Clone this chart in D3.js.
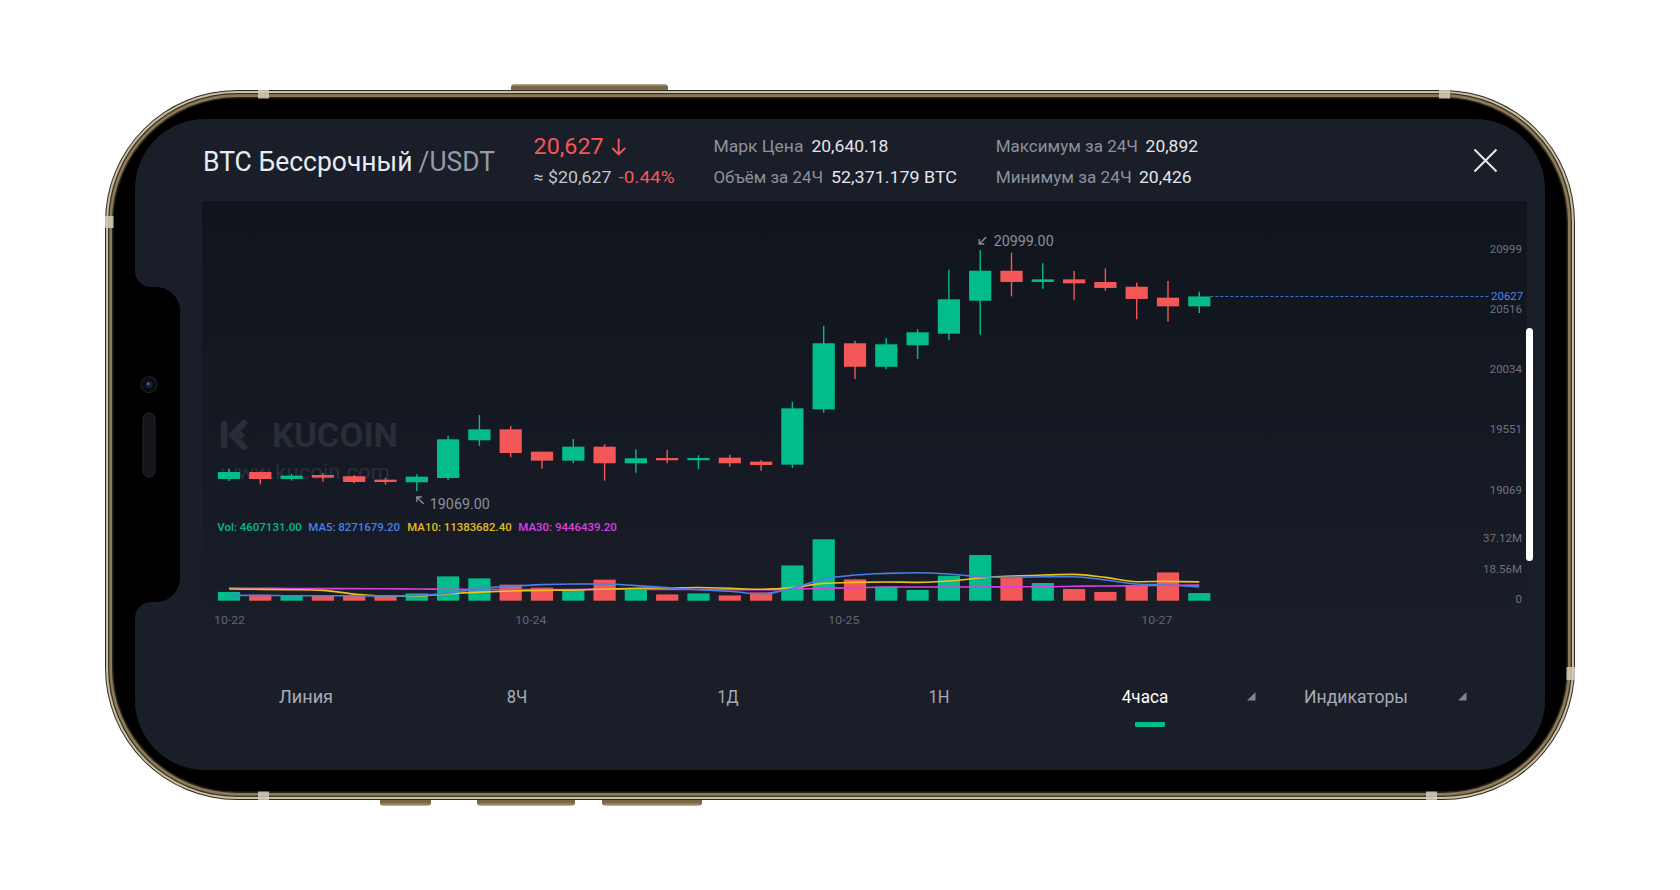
<!DOCTYPE html>
<html>
<head>
<meta charset="utf-8">
<script src="https://cdn.jsdelivr.net/npm/d3@7"></script>
<style>
  html, body { margin: 0; padding: 0; background: #ffffff; }
  svg { display: block; font-family: Roboto, "Noto Sans", "DejaVu Sans", sans-serif; }
</style>
</head>
<body>
<svg id="chart" width="1680" height="890"></svg>
<script>
// ---- 4h candles, BTC perpetual / USDT ----
const candleOpen  = [19165, 19221, 19165, 19197, 19187, 19160, 19139, 19173, 19475, 19563, 19384, 19312, 19424, 19291, 19333, 19317,
                     19336, 19304, 19280, 19723, 20252, 20064, 20236, 20329, 20593, 20833, 20743, 20764, 20743, 20705, 20617, 20548];
const candleHigh  = [19245, 19226, 19205, 19213, 19197, 19176, 19203, 19512, 19678, 19590, 19384, 19485, 19443, 19403, 19397, 19355,
                     19360, 19317, 19784, 20393, 20273, 20294, 20364, 20841, 20999, 20977, 20892, 20831, 20852, 20737, 20751, 20665];
const candleLow   = [19149, 19123, 19152, 19143, 19131, 19120, 19069, 19157, 19429, 19339, 19248, 19291, 19152, 19216, 19291, 19243,
                     19264, 19232, 19253, 19696, 19966, 20044, 20126, 20276, 20321, 20628, 20689, 20596, 20673, 20444, 20426, 20494];
const candleClose = [19221, 19165, 19192, 19176, 19141, 19141, 19184, 19483, 19563, 19373, 19312, 19424, 19291, 19331, 19315, 19333,
                     19291, 19277, 19731, 20252, 20064, 20244, 20340, 20604, 20833, 20743, 20764, 20732, 20695, 20607, 20548, 20627];

// volume per candle and its moving averages
const volume = [5300000, 3600000, 3200000, 3200000, 3400000, 3000000, 4400000, 14700000, 13500000, 9700000, 7900000, 6500000,
                12700000, 6700000, 3800000, 4400000, 3200000, 5000000, 21300000, 37120000, 12900000, 8500000, 6500000, 15100000,
                27600000, 13900000, 10700000, 7100000, 5300000, 9500000, 17100000, 4607131];
const volMA5  = [3200000, 3200000, 3000000, 3000000, 3000000, 2800000, 3200000, 4600000, 7300000, 8700000, 9700000, 10100000,
                 10100000, 9100000, 7900000, 6600000, 5700000, 4100000, 7500000, 13100000, 15500000, 16500000, 16900000, 16100000,
                 14500000, 14100000, 14500000, 14500000, 12500000, 10100000, 9500000, 8271679.2];
const volMA10 = [7050000, 6850000, 6650000, 6250000, 4000000, 2800000, 2800000, 4200000, 5200000, 5900000, 6250000, 6450000,
                 7050000, 7500000, 7700000, 8000000, 7500000, 6900000, 7900000, 10500000, 11100000, 11300000, 11100000, 11900000,
                 13700000, 14900000, 15500000, 15900000, 14100000, 11500000, 11700000, 11383682.4];
const volMA30 = [7600000, 7500000, 7400000, 7300000, 7300000, 7200000, 7100000, 6900000, 6800000, 6700000, 6800000, 6800000,
                 6900000, 6900000, 6800000, 6800000, 6600000, 6600000, 7000000, 7500000, 7900000, 8200000, 8300000, 8300000,
                 8300000, 8400000, 8400000, 8700000, 8900000, 9000000, 9300000, 9446439.2];

// axis ticks
const priceTicks = [20999, 20516, 20034, 19551, 19069];
const volTicks = [0, 18560000, 37120000];
const volTickLabels = ["0", "18.56M", "37.12M"];
const dateLabels = ["10-22", "10-24", "10-25", "10-27"];
const dateIndex = [0, 10, 20, 30];

const lastPrice = 20627;
const highMark = 20999;
const lowMark = 19069;

// header texts
const pairName = "BTC Бессрочный";
const pairQuote = "/USDT";
const priceText = "20,627";
const fiatText = "≈ $20,627";
const changeText = "-0.44%";
const statLabels = ["Марк Цена", "Объём за 24Ч", "Максимум за 24Ч", "Минимум за 24Ч"];
const statValues = ["20,640.18", "52,371.179 BTC", "20,892", "20,426"];
const tabs = ["Линия", "8Ч", "1Д", "1Н", "4часа", "Индикаторы"];
const tabCaret = [false, false, false, false, true, true];
const activeTab = "4часа";

// ---- colours ----
const UP = "#02bd8b", DOWN = "#f35757";
const C_MA5 = "#4a80e6", C_MA10 = "#ecc418", C_MA30 = "#d940e3";
const SCREEN = "#1a1e29", AXIS_TXT = "#6c7282";

const svg = d3.select("#chart");
const defs = svg.append("defs");

function fit(sel, w) {
  return sel.attr("textLength", w).attr("lengthAdjust", "spacingAndGlyphs");
}

// ================= phone body =================
const bodyBox = { x: 105, y: 90, w: 1470, h: 710, r: 132 };
const frame = svg.append("g");

// buttons on the rim
const btnTop = [[511, 668]];
const btnBottom = [[380, 431], [477, 575], [602, 702]];
btnTop.forEach(([a, b]) => {
  frame.append("rect").attr("x", a).attr("y", 84.5).attr("width", b - a).attr("height", 9)
    .attr("rx", 3).attr("fill", "#786845");
  frame.append("rect").attr("x", a + 2).attr("y", 84.5).attr("width", b - a - 4).attr("height", 1.2)
    .attr("fill", "#a8976f");
});
btnBottom.forEach(([a, b]) => {
  frame.append("rect").attr("x", a).attr("y", 796).attr("width", b - a).attr("height", 9.5)
    .attr("rx", 3).attr("fill", "#786845");
  frame.append("rect").attr("x", a + 2).attr("y", 803.5).attr("width", b - a - 4).attr("height", 1.2)
    .attr("fill", "#a8976f");
});

// layered metal rim
const rimLayers = [
  [0, "#2f2a21"], [1, "#cabfa3"], [3, "#3a3328"], [4.3, "#8b7a56"], [7, "#2a251d"], [8.5, "#000000"]
];
rimLayers.forEach(([inset, c]) => {
  frame.append("rect")
    .attr("x", bodyBox.x + inset).attr("y", bodyBox.y + inset)
    .attr("width", bodyBox.w - 2 * inset).attr("height", bodyBox.h - 2 * inset)
    .attr("rx", bodyBox.r - inset).attr("fill", c);
});

// antenna breaks
const antenna = [
  [258, 90, 11, 8.5], [1439, 90, 11, 8.5], [105, 216, 8.5, 12], [1566.5, 667, 8.5, 13],
  [258, 791.5, 11, 8.5], [1426, 791.5, 11, 8.5]
];
antenna.forEach(([ax, ay, w, h]) => {
  frame.append("rect").attr("x", ax).attr("y", ay).attr("width", w).attr("height", h)
    .attr("fill", "#d3cbbb").attr("opacity", 0.85);
});

// screen with the side notch
const scr = { l: 135, t: 119, r: 1545, b: 770, R: 70 };
const notch = { t: 287, b: 602, x: 180, r1: 16, r2: 24 };
const sp = d3.path();
sp.moveTo(scr.l + scr.R, scr.t);
sp.lineTo(scr.r - scr.R, scr.t);
sp.arcTo(scr.r, scr.t, scr.r, scr.t + scr.R, scr.R);
sp.lineTo(scr.r, scr.b - scr.R);
sp.arcTo(scr.r, scr.b, scr.r - scr.R, scr.b, scr.R);
sp.lineTo(scr.l + scr.R, scr.b);
sp.arcTo(scr.l, scr.b, scr.l, scr.b - scr.R, scr.R);
sp.lineTo(scr.l, notch.b + notch.r1);
sp.arcTo(scr.l, notch.b, scr.l + notch.r1, notch.b, notch.r1);
sp.lineTo(notch.x - notch.r2, notch.b);
sp.arcTo(notch.x, notch.b, notch.x, notch.b - notch.r2, notch.r2);
sp.lineTo(notch.x, notch.t + notch.r2);
sp.arcTo(notch.x, notch.t, notch.x - notch.r2, notch.t, notch.r2);
sp.lineTo(scr.l + notch.r1, notch.t);
sp.arcTo(scr.l, notch.t, scr.l, notch.t - notch.r1, notch.r1);
sp.lineTo(scr.l, scr.t + scr.R);
sp.arcTo(scr.l, scr.t, scr.l + scr.R, scr.t, scr.R);
sp.closePath();
frame.append("path").attr("d", sp.toString()).attr("fill", SCREEN);

// camera and speaker in the notch
frame.append("circle").attr("cx", 149).attr("cy", 384.5).attr("r", 8).attr("fill", "#0b0c11").attr("stroke", "#1d2029").attr("stroke-width", 1.2);
frame.append("circle").attr("cx", 149).attr("cy", 384.5).attr("r", 3.6).attr("fill", "#17203a");
frame.append("circle").attr("cx", 148.3).attr("cy", 383.8).attr("r", 1.4).attr("fill", "#4a62b8");
frame.append("rect").attr("x", 143).attr("y", 413).attr("width", 12).attr("height", 64).attr("rx", 6)
  .attr("fill", "#15161a").attr("stroke", "#24262c").attr("stroke-width", 1);

// ================= header =================
const head = svg.append("g");
fit(head.append("text").attr("x", 203).attr("y", 171).attr("font-size", 27).attr("fill", "#e8ebf0").text(pairName), 209.5);
fit(head.append("text").attr("x", 418.6).attr("y", 171).attr("font-size", 27).attr("fill", "#959ba7").text(pairQuote), 76.4);

fit(head.append("text").attr("x", 533.6).attr("y", 154.3).attr("font-size", 22.5).attr("fill", DOWN).text(priceText), 70);
head.append("path").attr("d", "M618.7,138.5V154.5M612.2,148L618.7,154.5L625.2,148")
  .attr("fill", "none").attr("stroke", DOWN).attr("stroke-width", 1.9);
fit(head.append("text").attr("x", 533.6).attr("y", 182.7).attr("font-size", 17).attr("fill", "#c3c6ce").text(fiatText), 77.8);
fit(head.append("text").attr("x", 618.6).attr("y", 182.7).attr("font-size", 17).attr("fill", DOWN).text(changeText), 56);

const statPos = [
  { lx: 713.4, lw: 90, vx: 811.4, vw: 77, y: 152.3 },
  { lx: 713.4, lw: 109.6, vx: 831, vw: 126, y: 183.3 },
  { lx: 995.7, lw: 142.3, vx: 1145.6, vw: 52.4, y: 152.3 },
  { lx: 995.7, lw: 136, vx: 1139, vw: 52.7, y: 183.3 }
];
statLabels.forEach((lab, k) => {
  const p = statPos[k];
  fit(head.append("text").attr("x", p.lx).attr("y", p.y).attr("font-size", 17).attr("fill", "#8c919d").text(lab), p.lw);
  fit(head.append("text").attr("x", p.vx).attr("y", p.y).attr("font-size", 17).attr("fill", "#e4e6eb").text(statValues[k]), p.vw);
});

// close button
head.append("path").attr("d", "M1474.5,149.5L1496.5,171.5M1496.5,149.5L1474.5,171.5")
  .attr("stroke", "#e8eaee").attr("stroke-width", 2).attr("fill", "none");

// ================= chart panel =================
const panel = { x: 202, y: 201, w: 1325, h: 406 };
const grad = defs.append("linearGradient").attr("id", "panelGrad").attr("x1", 0).attr("y1", 0).attr("x2", 0).attr("y2", 1);
grad.append("stop").attr("offset", "0%").attr("stop-color", "#10141c");
grad.append("stop").attr("offset", "70%").attr("stop-color", "#161a24");
grad.append("stop").attr("offset", "100%").attr("stop-color", "#191d28");
svg.append("rect").attr("x", panel.x).attr("y", panel.y).attr("width", panel.w).attr("height", panel.h)
  .attr("fill", "url(#panelGrad)");

// scales
const n = candleOpen.length;
const x = d3.scaleBand().domain(d3.range(n)).range([213.35, 1214.95]).paddingInner(0.29).paddingOuter(0.145);
const xc = i => x(i) + x.bandwidth() / 2;
const yPrice = d3.scaleLinear().domain([lowMark, highMark]).range([491, 250]);
const yVol = d3.scaleLinear().domain([0, d3.max(volume)]).range([600.7, 539.3]);

// watermark
const WM = "#282d38";
const wm = svg.append("g").attr("fill", WM);
const logo = wm.append("g").attr("transform", "translate(221,418)");
logo.append("rect").attr("x", 0).attr("y", 3).attr("width", 6.5).attr("height", 27).attr("rx", 2.5);
logo.append("path").attr("d", "M23,5L11,17L23,29").attr("fill", "none").attr("stroke", WM)
  .attr("stroke-width", 6.5).attr("stroke-linecap", "round").attr("stroke-linejoin", "round");
logo.append("path").attr("d", "M20,13L24,17L20,21L16,17Z");
fit(wm.append("text").attr("x", 272).attr("y", 447).attr("font-size", 34).attr("font-weight", 700)
  .text("KUCOIN"), 126);
fit(wm.append("text").attr("x", 221).attr("y", 479).attr("font-size", 21).attr("fill", "#2a2f3b")
  .text("www.kucoin.com"), 169);

// last price line
svg.append("line")
  .attr("x1", x(n - 1) + x.bandwidth()).attr("x2", 1490)
  .attr("y1", yPrice(lastPrice)).attr("y2", yPrice(lastPrice))
  .attr("stroke", "#3b7ae0").attr("stroke-width", 1).attr("stroke-dasharray", "3,2");

// candles
const idx = d3.range(n);
const cg = svg.append("g");
const col = i => candleClose[i] >= candleOpen[i] ? UP : DOWN;
cg.selectAll("line.wick").data(idx).join("line").attr("class", "wick")
  .attr("x1", i => xc(i)).attr("x2", i => xc(i))
  .attr("y1", i => yPrice(candleHigh[i])).attr("y2", i => yPrice(candleLow[i]))
  .attr("stroke", col).attr("stroke-width", 1.4);
cg.selectAll("rect.body").data(idx).join("rect").attr("class", "body")
  .attr("x", i => x(i)).attr("width", x.bandwidth())
  .attr("y", i => yPrice(Math.max(candleOpen[i], candleClose[i])))
  .attr("height", i => Math.max(2.2, Math.abs(yPrice(candleOpen[i]) - yPrice(candleClose[i]))))
  .attr("fill", col);

// high / low markers
const mk = svg.append("g").attr("fill", "#8b909c").attr("stroke", "#8b909c");
const hiI = candleHigh.indexOf(highMark), loI = candleLow.indexOf(lowMark);
{
  const tx = xc(hiI) - 1, ty = yPrice(highMark) - 6;
  mk.append("path").attr("d", `M${tx + 7},${ty - 7}L${tx},${ty}M${tx},${ty - 5}V${ty}H${tx + 5}`)
    .attr("fill", "none").attr("stroke-width", 1.3);
  fit(mk.append("text").attr("stroke", "none").attr("x", tx + 14.5).attr("y", ty + 1.7).attr("font-size", 15)
    .text(highMark.toFixed(2)), 60);
}
{
  const tx = xc(loI), ty = yPrice(lowMark) + 6;
  mk.append("path").attr("d", `M${tx + 7},${ty + 7}L${tx},${ty}M${tx},${ty + 5}V${ty}H${tx + 5}`)
    .attr("fill", "none").attr("stroke-width", 1.3);
  fit(mk.append("text").attr("stroke", "none").attr("x", tx + 13).attr("y", ty + 12).attr("font-size", 15)
    .text(lowMark.toFixed(2)), 60);
}

// price axis
const yAxis = d3.axisRight(yPrice).tickValues(priceTicks).tickSize(0).tickFormat(d3.format("d"));
const ya = svg.append("g").attr("transform", "translate(1522,-1.5)").call(yAxis);
ya.select(".domain").remove();
ya.selectAll("text").attr("x", 0).attr("text-anchor", "end").attr("font-size", 11.5)
  .attr("fill", AXIS_TXT).attr("font-family", "Roboto, sans-serif");
svg.append("text").attr("x", 1523.3).attr("y", yPrice(lastPrice) + 3.8).attr("text-anchor", "end")
  .attr("font-size", 11.5).attr("fill", "#4a86ea").text(lastPrice);

// volume legend
const legend = svg.append("g").attr("font-size", 10.5).attr("font-weight", 500);
const legendItems = [
  ["Vol: " + d3.format(".2f")(volume[n - 1]), UP, 217.3, 84.4],
  ["MA5: " + d3.format(".2f")(volMA5[n - 1]), C_MA5, 308.3, 91.7],
  ["MA10: " + d3.format(".2f")(volMA10[n - 1]), "#e3bd18", 407.3, 104.4],
  ["MA30: " + d3.format(".2f")(volMA30[n - 1]), C_MA30, 518.3, 98.4]
];
legendItems.forEach(([t, c, lx, lw]) => {
  fit(legend.append("text").attr("x", lx).attr("y", 530.7).attr("fill", c).text(t), lw);
});

// volume bars
const vg = svg.append("g");
vg.selectAll("rect").data(idx).join("rect")
  .attr("x", i => x(i)).attr("width", x.bandwidth())
  .attr("y", i => yVol(volume[i])).attr("height", i => yVol(0) - yVol(volume[i]))
  .attr("fill", col);

// moving averages of volume
const maLine = d3.line().x((d, i) => xc(i)).y(d => yVol(d)).curve(d3.curveMonotoneX);
[[volMA30, C_MA30], [volMA10, C_MA10], [volMA5, C_MA5]].forEach(([arr, c]) => {
  svg.append("path").attr("d", maLine(arr)).attr("fill", "none").attr("stroke", c).attr("stroke-width", 1.6);
});

// volume axis
const vAxis = d3.axisRight(yVol).tickValues(volTicks).tickSize(0).tickFormat((d, k) => volTickLabels[k]);
const va = svg.append("g").attr("transform", "translate(1522,-1.5)").call(vAxis);
va.select(".domain").remove();
va.selectAll("text").attr("x", 0).attr("text-anchor", "end").attr("font-size", 11.5)
  .attr("fill", AXIS_TXT).attr("font-family", "Roboto, sans-serif");

// date axis (labels sit at the start of their candle slot, kept inside the plot)
const plotLeft = 214;
const xa = svg.append("g");
dateIndex.forEach((di, k) => {
  const t = xa.append("text").attr("y", 624).attr("font-size", 11.5).attr("fill", "#5f6676")
    .attr("text-anchor", "middle").text(dateLabels[k]);
  fit(t, 31);
  const half = 15.5;
  t.attr("x", Math.max(x(di), plotLeft + half));
});

// scrollbar
svg.append("rect").attr("x", 1526).attr("y", 328).attr("width", 7).attr("height", 233).attr("rx", 3.5).attr("fill", "#ffffff");

// ================= bottom tabs =================
const tabScale = d3.scaleBand().domain(tabs).range([200.5, 1466.5]);
const tabW = { "Линия": 54, "8Ч": 20.5, "1Д": 21, "1Н": 21, "4часа": 46.5, "Индикаторы": 104 };
const tg = svg.append("g");
tabs.forEach((t, k) => {
  const cx = tabScale(t) + tabScale.bandwidth() / 2 - (tabCaret[k] ? 5 : 0);
  const active = t === activeTab;
  fit(tg.append("text").attr("x", cx).attr("y", 703.4).attr("text-anchor", "middle").attr("font-size", 18)
    .attr("fill", active ? "#ffffff" : "#a7abb5").text(t), tabW[t]);
  if (tabCaret[k]) {
    const rx = tabScale(t) + tabScale.bandwidth();
    tg.append("path").attr("d", `M${rx},692L${rx},700.5L${rx - 8.5},700.5Z`).attr("fill", "#7f8490");
  }
  if (active) {
    const ux = tabScale(t) + tabScale.bandwidth() / 2;
    tg.append("rect").attr("x", ux - 15).attr("y", 722).attr("width", 30).attr("height", 5).attr("rx", 1)
      .attr("fill", UP);
  }
});
</script>
</body>
</html>
